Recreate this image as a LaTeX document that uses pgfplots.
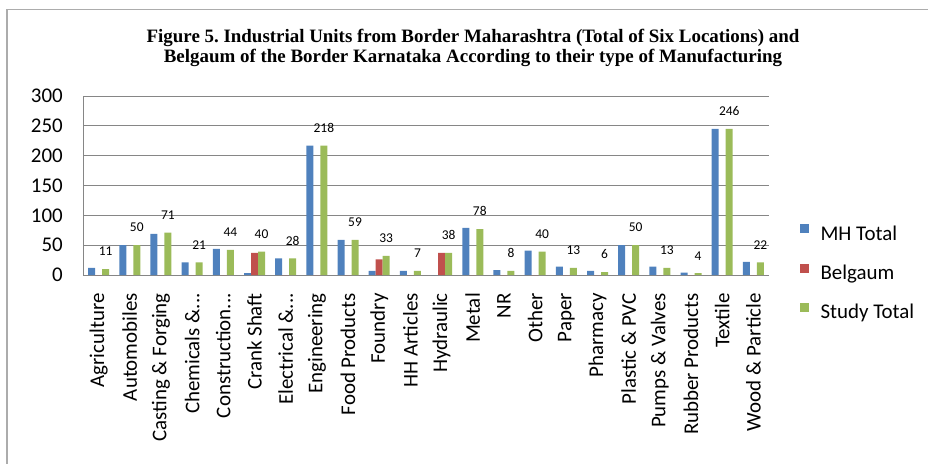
\documentclass[border=0pt]{standalone}
\usepackage{fontspec}
\setmainfont{Carlito}
\newfontfamily\titlefont{Liberation Serif}
\usepackage{pgfplots}
\usepackage{pgfplotstable}
\pgfplotsset{compat=1.18}
\frenchspacing

\definecolor{mhblue}{HTML}{4F81BD}
\definecolor{belred}{HTML}{C0504D}
\definecolor{stgreen}{HTML}{9BBB59}
\definecolor{gridgray}{HTML}{868686}

% x  MH Total  Belgaum  Study Total  label
\pgfplotstableread{
x  mh   bel  st   lab
0  12   0    10   11
1  50   0    50   50
2  69   0    71   71
3  21   0    21   21
4  44   0    42   44
5  3    37   39   40
6  28   0    28   28
7  217  0    217  218
8  59   0    59   59
9  7    26   32   33
10 7    0    7    7
11 0    37   37   38
12 79   0    77   78
13 8    0    7    8
14 41   0    39   40
15 14   0    12   13
16 7    0    5    6
17 50   0    50   50
18 14   0    12   13
19 4    0    3    4
20 245  0    245  246
21 22   0    21   22
}\unitsdata

\def\dd{.\kern0pt.\kern0pt.}

\begin{document}
\begin{tikzpicture}
\useasboundingbox (0,0) rectangle (928bp,-464bp);
\draw[gray!65, line width=1.5bp] (7bp,-464bp) -- (7bp,-9.5bp) -- (928bp,-9.5bp);
\node[align=center, font=\titlefont\bfseries\fontsize{19}{20}\selectfont]
  at (473bp,-48bp) {Figure 5. Industrial Units from Border Maharashtra (Total of Six Locations) and\\
  Belgaum of the Border Karnataka According to their type of Manufacturing};
\begin{axis}[
  at={(83bp,-275bp)}, anchor=south west,
  width=686bp, height=179bp, scale only axis,
  ybar=0pt, bar width=7bp,
  xmin=-0.5, xmax=21.5, ymin=0, ymax=300,
  ytick={0,50,...,300},
  xtick={0,...,21},
  xticklabels={Agriculture, Automobiles, Casting \& Forging, {Chemicals \&\dd}, {Construction\dd}, Crank Shaft, {Electrical \&\dd}, Engineering, Food Products, Foundry, HH Articles, Hydraulic, Metal, NR, Other, Paper, Pharmacy, Plastic \& PVC, Pumps \& Valves, Rubber Products, Textile, Wood \& Particle},
  axis x line*=bottom, axis y line*=left,
  axis line style={draw=gridgray, line width=1bp},
  ymajorgrids, grid style={draw=gridgray, line width=1bp},
  major tick length=0pt,
  /pgf/number format/assume math mode=true,
  ticklabel style={font=\fontsize{21}{21}\selectfont, inner sep=0pt},
  yticklabel shift=20bp,
  xticklabel style={rotate=90, anchor=east},
  xticklabel shift=18bp,
  legend cell align=left,
  legend image code/.code={\fill[#1] (0bp,1.8bp) rectangle (9bp,10.8bp);},
  legend style={draw=none, fill=none, inner sep=0pt, outer sep=0pt,
    at={(1.0452,0.283)}, anchor=north west,
    font=\fontsize{21}{21}\selectfont,
    nodes={inner sep=0pt, text height=15bp, text depth=5bp},
    row sep=18.5bp, column sep=11.5bp},
]
\addplot[fill=mhblue, draw=none] table[x=x, y=mh] {\unitsdata};
\addlegendentry{MH Total}
\addplot[fill=belred, draw=none] table[x=x, y=bel] {\unitsdata};
\addlegendentry{Belgaum}
\addplot[fill=stgreen, draw=none,
  nodes near coords, point meta=explicit,
  nodes near coords style={font=\fontsize{13.5}{13.5}\selectfont, text=black,
    inner sep=0pt, anchor=south, yshift=13bp}]
  table[x=x, y=st, meta=lab] {\unitsdata};
\addlegendentry{Study Total}
\end{axis}
\end{tikzpicture}
\end{document}
